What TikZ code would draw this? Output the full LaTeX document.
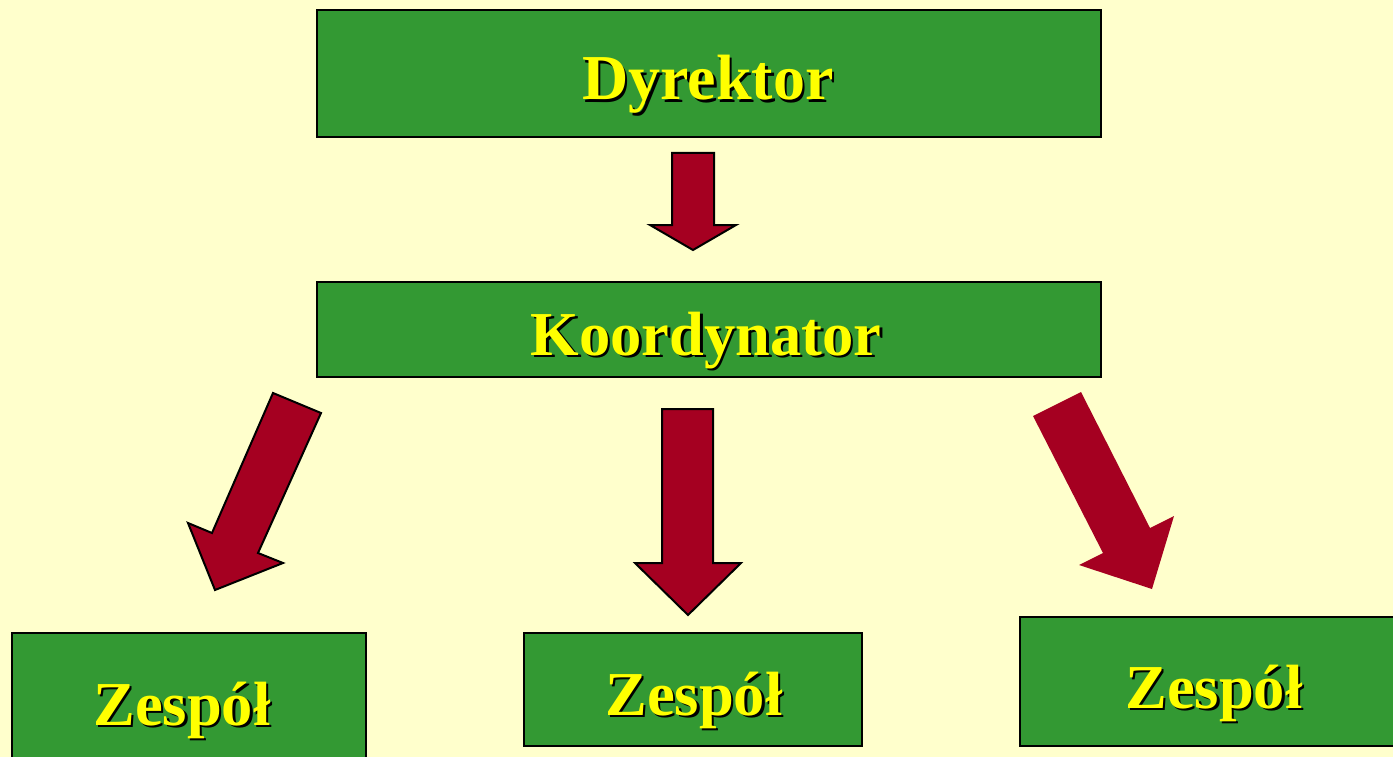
\documentclass[tikz,border=0pt]{standalone}
\usepackage{fontspec}
\setmainfont{Liberation Serif}
\definecolor{bgyellow}{HTML}{FFFFCC}
\definecolor{boxgreen}{HTML}{339933}
\definecolor{arrowred}{HTML}{A50021}
\definecolor{textyellow}{HTML}{FFFF00}
\newcommand\shadowtext[1]{\makebox[0pt][l]{\hspace{2.5pt}\raisebox{-2.5pt}{\color{black}#1}}{\color{textyellow}#1}}
\begin{document}
\begin{tikzpicture}[x=1pt,y=-1pt,
  box/.style={draw=black,line width=2pt,fill=boxgreen,inner sep=0pt},
  boxtext/.style={anchor=base,inner sep=0pt,font=\fontsize{62.5}{70}\selectfont\bfseries},
  blockarrow/.style={fill=arrowred,draw=black,line width=2pt,line join=miter},
  blockarrownl/.style={fill=arrowred}]
\fill[bgyellow] (0,0) rectangle (1393,757);
\useasboundingbox (0,0) rectangle (1393,757);
% boxes
\node[box,minimum width=784pt,minimum height=127pt] (dyr) at (709,73.5) {};
\node[box,minimum width=784pt,minimum height=95pt] (koord) at (709,329.5) {};
\node[box,minimum width=354pt,minimum height=140pt] (z1) at (189,703) {};
\node[box,minimum width=338pt,minimum height=113pt] (z2) at (693,689.5) {};
\node[box,minimum width=400pt,minimum height=129pt] (z3) at (1220,681.5) {};
% texts
\node[boxtext,font=\fontsize{64}{70}\selectfont\bfseries] (tdyr) at (708,100) {\shadowtext{Dyrektor}};
\node[boxtext] (tkoord) at (706,355) {\shadowtext{Koordynator}};
\node[boxtext] (tz1) at (182,725) {\shadowtext{Zespół}};
\node[boxtext] (tz2) at (694,715) {\shadowtext{Zespół}};
\node[boxtext] (tz3) at (1214,708) {\shadowtext{Zespół}};
% arrows
\draw[blockarrow] (672,153) -- (714,153) -- (714,225) -- (736,225) -- (693,250) -- (650,225) -- (672,225) -- cycle;
\draw[blockarrow] (273,393) -- (321,413) -- (258,553) -- (283,563) -- (215,590) -- (188,523) -- (212,533) -- cycle;
\draw[blockarrow] (662,409) -- (713,409) -- (713,563) -- (741,563) -- (688,615) -- (635,563) -- (662,563) -- cycle;
\fill[blockarrownl] (1033,416) -- (1081,392) -- (1150,528) -- (1174,516) -- (1152,589) -- (1079,565) -- (1103,553) -- cycle;
\end{tikzpicture}
\end{document}
